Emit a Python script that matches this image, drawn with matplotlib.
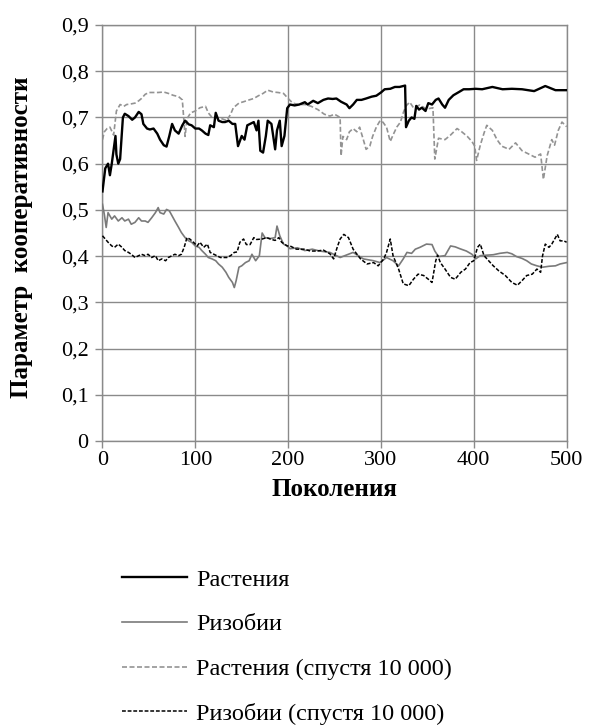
import matplotlib
matplotlib.use("Agg")
import matplotlib.pyplot as plt
from matplotlib.ticker import FuncFormatter

plt.rcParams["font.family"] = ["Liberation Serif", "DejaVu Serif"]

# Растения (black solid)
plants_x = [0, 3, 6, 8, 10, 12, 14, 15, 17, 19, 22, 24, 28, 32, 35, 39, 42, 44, 48, 51,
            55, 59, 62, 66, 69, 72, 75, 78, 82, 86, 89, 93, 96, 100, 104, 107, 111, 114, 116, 120,
            122, 125, 129, 132, 136, 140, 143, 146, 150, 153, 156, 159, 163, 166, 168, 170, 173, 176, 178, 182,
            186, 188, 191, 193, 196, 199, 202, 207, 212, 218, 221, 227, 232, 238, 243, 248, 252, 257, 263, 266,
            270, 274, 279, 284, 290, 295, 300, 304, 310, 315, 320, 326, 327, 330, 333, 336, 338, 341, 344, 348,
            351, 355, 359, 362, 366, 369, 373, 378, 384, 389, 395, 402, 409, 420, 431, 441, 452, 465, 477, 488, 500]
plants_y = [0.54, 0.59, 0.60, 0.575, 0.60, 0.63, 0.66, 0.62, 0.60, 0.61, 0.70, 0.708, 0.703, 0.695, 0.70, 0.712, 0.707, 0.686, 0.676, 0.674,
            0.676, 0.665, 0.652, 0.64, 0.637, 0.66, 0.686, 0.672, 0.665, 0.683, 0.693, 0.685, 0.683, 0.676, 0.676, 0.672, 0.665, 0.662, 0.683, 0.679,
            0.71, 0.693, 0.69, 0.69, 0.693, 0.686, 0.686, 0.638, 0.66, 0.652, 0.683, 0.686, 0.69, 0.672, 0.693, 0.628, 0.624, 0.66, 0.693, 0.686,
            0.631, 0.672, 0.693, 0.638, 0.66, 0.72, 0.728, 0.726, 0.728, 0.733, 0.728, 0.736, 0.731, 0.738, 0.741, 0.74, 0.741, 0.734, 0.728, 0.72,
            0.728, 0.738, 0.738, 0.741, 0.745, 0.747, 0.754, 0.761, 0.762, 0.766, 0.766, 0.769, 0.679, 0.693, 0.70, 0.697, 0.725, 0.717, 0.721, 0.714,
            0.731, 0.728, 0.738, 0.741, 0.728, 0.721, 0.738, 0.748, 0.755, 0.761, 0.761, 0.762, 0.761, 0.766, 0.761, 0.762, 0.761, 0.757, 0.768, 0.759, 0.759]

# Ризобии (gray solid)
rhizo_x = [0, 2, 4, 6, 10, 13, 17, 21, 24, 28, 31, 35, 39, 42, 46, 49, 53, 57, 60, 62,
           66, 69, 72, 75, 78, 82, 85, 89, 93, 96, 100, 104, 107, 111, 114, 118, 122, 125, 129, 133,
           136, 140, 142, 144, 147, 150, 154, 158, 161, 165, 169, 172, 175, 181, 186, 188, 191, 195, 199, 202,
           210, 218, 226, 234, 245, 256, 270, 281, 292, 299, 306, 313, 319, 324, 328, 333, 337, 342, 349, 355,
           358, 362, 369, 375, 380, 385, 392, 398, 402, 407, 414, 421, 428, 436, 441, 446, 452, 457, 462, 468,
           474, 481, 488, 493, 500]
rhizo_y = [0.512, 0.49, 0.462, 0.494, 0.48, 0.487, 0.476, 0.483, 0.476, 0.48, 0.469, 0.473, 0.483, 0.476, 0.476, 0.473, 0.483, 0.494, 0.505, 0.494,
           0.491, 0.501, 0.498, 0.487, 0.476, 0.462, 0.451, 0.44, 0.433, 0.43, 0.422, 0.419, 0.412, 0.404, 0.397, 0.394, 0.39, 0.383, 0.376, 0.365,
           0.354, 0.343, 0.332, 0.347, 0.376, 0.379, 0.386, 0.39, 0.404, 0.39, 0.401, 0.45, 0.44, 0.438, 0.44, 0.465, 0.444, 0.426, 0.422, 0.416,
           0.418, 0.412, 0.415, 0.411, 0.408, 0.397, 0.408, 0.394, 0.39, 0.386, 0.397, 0.39, 0.379, 0.394, 0.408, 0.406, 0.415, 0.419, 0.426, 0.425,
           0.411, 0.399, 0.401, 0.422, 0.42, 0.416, 0.411, 0.404, 0.394, 0.401, 0.402, 0.403, 0.406, 0.408, 0.405, 0.399, 0.395, 0.39, 0.383, 0.379,
           0.376, 0.378, 0.379, 0.383, 0.386]

# Растения (спустя 10 000) (gray dashed)
plants_late_x = [0, 2, 5, 8, 12, 15, 19, 23, 26, 30, 35, 39, 42, 46, 50, 55, 60, 66, 71, 76,
                 82, 86, 89, 91, 95, 100, 105, 111, 114, 118, 123, 129, 134, 138, 141, 147, 152, 158, 163, 168,
                 173, 178, 184, 189, 195, 200, 205, 211, 218, 225, 232, 239, 245, 250, 256, 257, 259, 263, 266, 270,
                 274, 277, 281, 284, 288, 291, 295, 299, 302, 306, 310, 313, 317, 321, 324, 327, 331, 335, 342, 349,
                 356, 358, 362, 369, 375, 382, 387, 393, 398, 401, 403, 407, 411, 414, 420, 425, 430, 438, 445, 452,
                 459, 466, 472, 475, 479, 484, 487, 491, 495, 500]
plants_late_y = [0.652, 0.669, 0.676, 0.679, 0.662, 0.714, 0.728, 0.724, 0.728, 0.729, 0.731, 0.736, 0.741, 0.75, 0.754, 0.754, 0.754, 0.755, 0.752, 0.748,
                 0.745, 0.738, 0.659, 0.697, 0.71, 0.714, 0.721, 0.724, 0.71, 0.70, 0.70, 0.697, 0.693, 0.707, 0.721, 0.731, 0.734, 0.738, 0.741, 0.747,
                 0.752, 0.759, 0.755, 0.754, 0.752, 0.741, 0.731, 0.728, 0.728, 0.724, 0.717, 0.707, 0.703, 0.707, 0.70, 0.617, 0.659, 0.652, 0.669, 0.676,
                 0.669, 0.679, 0.652, 0.631, 0.638, 0.659, 0.679, 0.693, 0.69, 0.679, 0.648, 0.662, 0.679, 0.69, 0.71, 0.725, 0.733, 0.721, 0.727, 0.718,
                 0.721, 0.61, 0.655, 0.652, 0.662, 0.676, 0.669, 0.659, 0.648, 0.638, 0.607, 0.64, 0.666, 0.683, 0.672, 0.652, 0.638, 0.631, 0.645, 0.628,
                 0.621, 0.614, 0.621, 0.566, 0.617, 0.652, 0.64, 0.672, 0.69, 0.68]

# Ризобии (спустя 10 000) (black dashed)
rhizo_late_x = [0, 3, 6, 10, 13, 17, 21, 24, 28, 31, 35, 39, 42, 46, 49, 53, 57, 60, 64, 68,
                71, 75, 78, 82, 85, 88, 91, 94, 98, 102, 105, 109, 113, 116, 120, 123, 127, 131, 134, 138,
                142, 145, 148, 152, 155, 159, 163, 166, 172, 177, 182, 186, 190, 193, 199, 202, 209, 217, 224, 231,
                238, 245, 249, 253, 256, 260, 265, 270, 278, 285, 292, 297, 303, 306, 310, 313, 319, 324, 330, 335,
                340, 346, 351, 355, 359, 361, 364, 369, 375, 380, 386, 391, 396, 400, 404, 407, 411, 416, 421, 427,
                434, 441, 447, 452, 457, 463, 468, 472, 474, 477, 481, 484, 490, 493, 497, 500]
rhizo_late_y = [0.444, 0.437, 0.43, 0.422, 0.419, 0.426, 0.419, 0.412, 0.408, 0.404, 0.397, 0.401, 0.404, 0.401, 0.404, 0.397, 0.401, 0.39, 0.394, 0.39,
                0.397, 0.401, 0.404, 0.401, 0.404, 0.419, 0.44, 0.437, 0.43, 0.422, 0.43, 0.419, 0.426, 0.408, 0.404, 0.401, 0.397, 0.397, 0.397, 0.401,
                0.408, 0.409, 0.43, 0.437, 0.425, 0.425, 0.44, 0.436, 0.437, 0.44, 0.436, 0.434, 0.44, 0.43, 0.422, 0.422, 0.415, 0.415, 0.411, 0.411,
                0.413, 0.405, 0.394, 0.42, 0.437, 0.447, 0.44, 0.415, 0.394, 0.383, 0.386, 0.379, 0.394, 0.408, 0.437, 0.401, 0.372, 0.34, 0.336, 0.35,
                0.361, 0.358, 0.35, 0.343, 0.39, 0.402, 0.386, 0.372, 0.354, 0.35, 0.365, 0.372, 0.386, 0.39, 0.419, 0.426, 0.401, 0.39, 0.379, 0.368,
                0.358, 0.343, 0.337, 0.347, 0.358, 0.361, 0.372, 0.365, 0.40, 0.426, 0.419, 0.426, 0.447, 0.433, 0.433, 0.43]

labels = ["Растения", "Ризобии", "Растения (спустя 10 000)", "Ризобии (спустя 10 000)"]
x_ticks = [0, 100, 200, 300, 400, 500]
y_ticks = [0, 0.1, 0.2, 0.3, 0.4, 0.5, 0.6, 0.7, 0.8, 0.9]

GRID = "#8a8a8a"

fig = plt.figure(figsize=(5.89, 7.27), dpi=100)
ax = fig.add_axes([0.174, 0.3934, 0.788, 0.5722])

ax.plot(plants_x, plants_y, color="black", lw=1.7, label=labels[0], zorder=4)
ax.plot(rhizo_x, rhizo_y, color="#7a7a7a", lw=1.2, label=labels[1], zorder=3)
ax.plot(plants_late_x, plants_late_y, color="#939393", lw=1.2, ls=(0, (3, 1.5)), label=labels[2], zorder=2)
ax.plot(rhizo_late_x, rhizo_late_y, color="black", lw=1.1, ls=(0, (2.5, 1.2)), label=labels[3], zorder=3)

ax.set_xlim(0, 500)
ax.set_ylim(0, 0.9)
ax.set_xticks(x_ticks)
ax.set_yticks(y_ticks)
ax.yaxis.set_major_formatter(FuncFormatter(lambda v, p: "0" if v == 0 else f"{v:.1f}".replace(".", ",")))
ax.grid(True, color=GRID, lw=1.0)
ax.set_axisbelow(True)
for s in ax.spines.values():
    s.set_color(GRID)
    s.set_linewidth(1.0)
ax.tick_params(axis="y", colors=GRID, length=5, width=1.0, labelsize=16, labelcolor="black", pad=5)
ax.tick_params(axis="x", colors=GRID, length=5, width=1.0, labelsize=16, labelcolor="black", pad=2)

ax.set_xlabel("Поколения", fontsize=18, fontweight="bold")
ax.xaxis.set_label_coords(0.5, -0.088)
ax.set_ylabel("Параметр  кооперативности", fontsize=18, fontweight="bold")
ax.yaxis.set_label_coords(-0.15, 0.49)

leg = fig.legend(loc="upper left", bbox_to_anchor=(0.19, 0.231), frameon=False,
                 fontsize=17.5, handlelength=2.7, handletextpad=0.37, labelspacing=0.93,
                 borderaxespad=0)

fig.savefig("out.png", dpi=100)
